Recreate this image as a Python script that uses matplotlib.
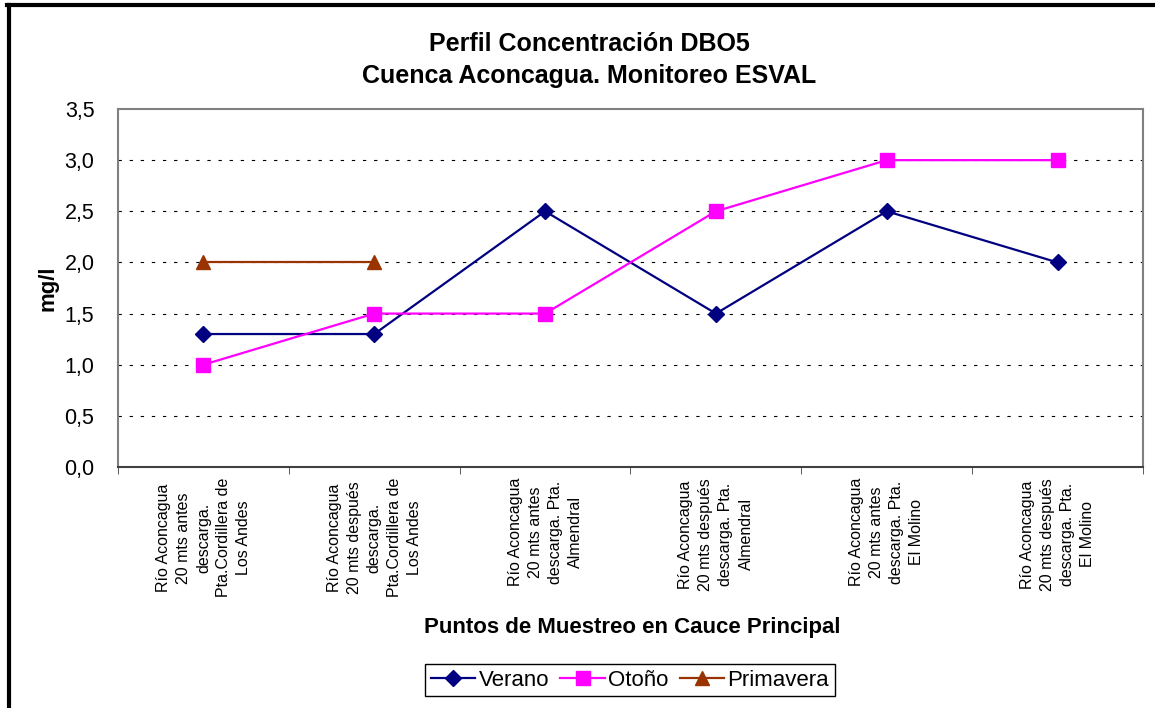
import numpy as np
import matplotlib.pyplot as plt
from matplotlib.lines import Line2D
from matplotlib.ticker import FuncFormatter, FixedLocator

plt.rcParams['font.family'] = ['Liberation Sans', 'DejaVu Sans']

# Datos
puntos = [
    "Río Aconcagua\n20 mts antes\ndescarga.\nPta.Cordillera de\nLos Andes",
    "Río Aconcagua\n20 mts después\ndescarga.\nPta.Cordillera de\nLos Andes",
    "Río Aconcagua\n20 mts antes\ndescarga. Pta.\nAlmendral",
    "Río Aconcagua\n20 mts después\ndescarga. Pta.\nAlmendral",
    "Río Aconcagua\n20 mts antes\ndescarga. Pta.\nEl Molino",
    "Río Aconcagua\n20 mts después\ndescarga. Pta.\nEl Molino",
]
verano = [1.3, 1.3, 2.5, 1.5, 2.5, 2.0]
otono = [1.0, 1.5, 1.5, 2.5, 3.0, 3.0]
primavera = [2.0, 2.0, np.nan, np.nan, np.nan, np.nan]

x = np.arange(len(puntos))

fig = plt.figure(figsize=(11.55, 7.08), dpi=100)
ax = fig.add_axes([118/1155, 1 - 467/708, 1025/1155, 358/708])

ax.plot(x, verano, color='#000080', lw=1.6, marker='D', ms=8, label='Verano', zorder=3)
ax.plot(x, otono, color='#FF00FF', lw=1.6, marker='s', ms=9.5, label='Otoño', zorder=3)
ax.plot(x, primavera, color='#993300', lw=1.6, marker='^', ms=10, label='Primavera', zorder=3)

ax.set_xlim(-0.5, len(puntos) - 0.5)
ax.set_ylim(0, 3.5)

# eje y
ax.yaxis.set_major_locator(FixedLocator(np.arange(0, 3.51, 0.5)))
ax.yaxis.set_major_formatter(FuncFormatter(lambda v, p: f"{v:.1f}".replace('.', ',')))
ax.tick_params(axis='y', length=0, labelsize=15.5, pad=17)
for v in np.arange(0.5, 3.01, 0.5):
    ax.axhline(v, color='black', lw=0.8, ls=(0, (3, 7)), zorder=1)

# eje x
ax.set_xticks(x)
ax.set_xticklabels(puntos, rotation=90, va='top', ha='center', multialignment='center',
                   fontsize=11.5, linespacing=1.42)
ax.tick_params(axis='x', which='major', length=0, pad=8)
ax.xaxis.set_minor_locator(FixedLocator(np.arange(-0.5, len(puntos), 1)))
ax.tick_params(axis='x', which='minor', length=5, direction='out', color='#404040')

for s in ax.spines.values():
    s.set_color('#808080')
    s.set_linewidth(1.5)
ax.spines['bottom'].set_color('#404040')

# textos
fig.text(589/1155, 1 - 60/708, 'Perfil Concentración DBO5\nCuenca Aconcagua. Monitoreo ESVAL',
         ha='center', va='center', multialignment='center',
         fontsize=18, fontweight='bold', linespacing=1.45)
fig.text(48/1155, 1 - 288/708, 'mg/l', rotation=90, ha='center', va='center',
         fontsize=16, fontweight='bold')
fig.text(632/1155, 1 - 627/708, 'Puntos de Muestreo en Cauce Principal',
         ha='center', va='center', fontsize=16, fontweight='bold')

fig.legend(loc='center', bbox_to_anchor=(630/1155, 1 - 680/708), ncol=3, fontsize=16,
           frameon=True, fancybox=False, edgecolor='black', framealpha=1,
           handlelength=2.0, handletextpad=0.15, columnspacing=0.5, borderpad=0.25)

# marco exterior
fig.add_artist(Line2D([8.5/1155, 8.5/1155], [0, 1 - 5/708], transform=fig.transFigure,
                      color='black', lw=3))
fig.add_artist(Line2D([7/1155, 1], [1 - 5/708, 1 - 5/708], transform=fig.transFigure,
                      color='black', lw=3))

fig.savefig('out.png', dpi=100)
